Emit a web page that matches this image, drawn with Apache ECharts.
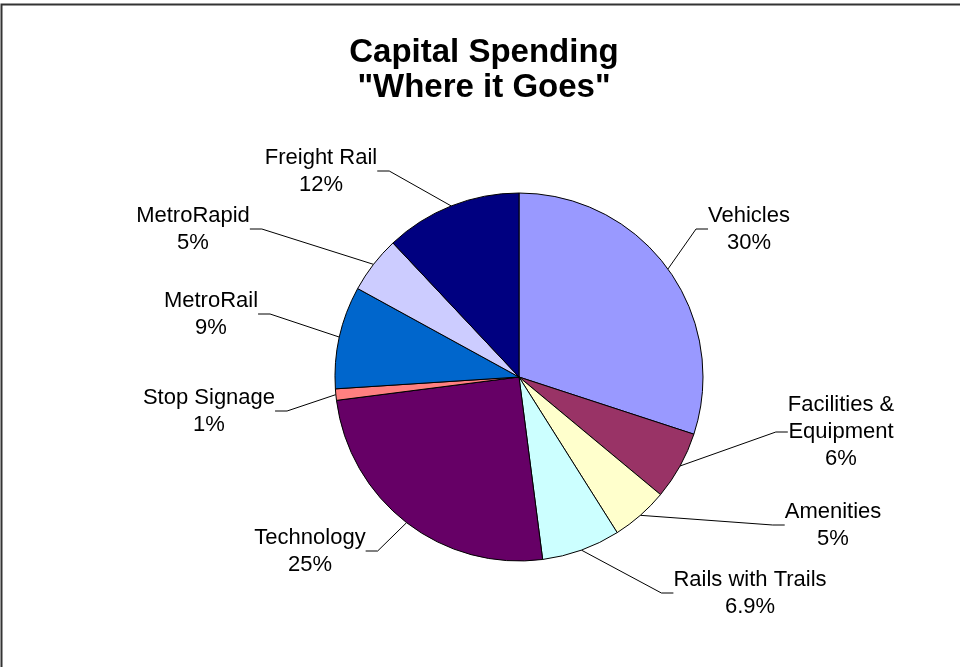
<!DOCTYPE html>
<html>
<head>
<meta charset="utf-8">
<title>Capital Spending</title>
<script src="https://cdn.jsdelivr.net/npm/echarts@6/dist/echarts.min.js"></script>
<style>
  html, body { margin: 0; padding: 0; background: #fff; }
  #chart { width: 960px; height: 667px; }
</style>
</head>
<body>
<div id="chart"></div>
<script>
// Spending categories, clockwise from 12 o'clock
const categories = ['Vehicles', 'Facilities &\nEquipment', 'Amenities', 'Rails with Trails',
  'Technology', 'Stop Signage', 'MetroRail', 'MetroRapid', 'Freight Rail'];
// Share of capital spending, percent
const shares = [30, 6, 5, 6.9, 25, 1, 9, 5, 12];
const sliceColors = ['#9999FF', '#993366', '#FFFFCC', '#CCFFFF', '#660066',
  '#FF8080', '#0066CC', '#CCCCFF', '#000080'];

// Where each callout label sits (centre of the text block, px)
const labelSpots = [
  [749, 229], [841, 432], [833, 525], [750, 593], [310, 551],
  [209, 411], [211, 314], [193, 229], [321, 171]
];

const font = "'Liberation Sans', Arial, sans-serif";

const chart = echarts.init(document.getElementById('chart'), null, { renderer: 'canvas' });

chart.setOption({
  backgroundColor: '#fff',
  animation: false,
  title: {
    text: 'Capital Spending\n"Where it Goes"',
    left: 479,
    top: 30,
    textAlign: 'center',
    textStyle: {
      fontFamily: font,
      fontSize: 33,
      fontWeight: 'bold',
      color: '#000',
      lineHeight: 35
    }
  },
  graphic: [{
    type: 'rect',
    shape: { x: 1.5, y: 4.5, width: 1000, height: 700 },
    style: { fill: null, stroke: '#333', lineWidth: 2 },
    silent: true
  }],
  series: [{
    type: 'pie',
    center: [519, 377],
    radius: 184,
    startAngle: 90,
    clockwise: true,
    data: categories.map((name, i) => ({
      name: name,
      value: shares[i],
      itemStyle: { color: sliceColors[i] }
    })),
    itemStyle: { borderColor: '#000', borderWidth: 1 },
    label: {
      show: true,
      position: 'outside',
      formatter: (p) => p.name + '\n' + p.value + '%',
      fontFamily: font,
      fontSize: 22,
      lineHeight: 27,
      color: '#000',
      align: 'center'
    },
    labelLine: {
      show: true,
      length: 20,
      length2: 12,
      lineStyle: { color: '#000', width: 1 }
    },
    labelLayout: (params) => {
      const spot = labelSpots[params.dataIndex];
      return { x: spot[0], y: spot[1], align: 'center', verticalAlign: 'middle' };
    },
    emphasis: { disabled: true }
  }]
});
</script>
</body>
</html>
